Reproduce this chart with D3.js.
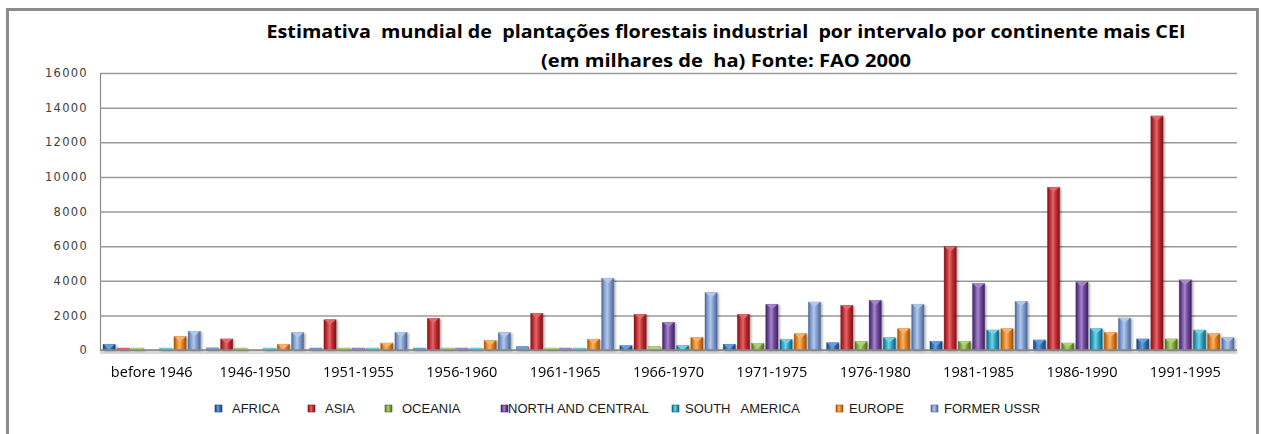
<!DOCTYPE html>
<html>
<head>
<meta charset="utf-8">
<script src="https://cdn.jsdelivr.net/npm/d3@7"></script>
<style>
  body { margin: 0; background: #fff; }
  svg text { white-space: pre; }
</style>
</head>
<body>
<script>
// Intervals (x axis)
const intervals = ['before 1946', '1946-1950', '1951-1955', '1956-1960', '1961-1965',
  '1966-1970', '1971-1975', '1976-1980', '1981-1985', '1986-1990', '1991-1995'];

// Series (continents)
const continents = ['AFRICA', 'ASIA', 'OCEANIA', 'NORTH AND CENTRAL', 'SOUTH   AMERICA', 'EUROPE', 'FORMER USSR'];

// values in thousands of ha, one per interval
const africa   = [330, 120, 110, 110, 190, 250, 330, 420, 500, 580, 640];
const asia     = [110, 640, 1750, 1830, 2120, 2060, 2060, 2580, 5970, 9400, 13520];
const oceania  = [110, 110, 110, 110, 110, 190, 385, 480, 500, 400, 640];
const northC   = [0, 0, 110, 110, 110, 1600, 2640, 2870, 3830, 3930, 4050];
const southAm  = [110, 110, 110, 110, 110, 250, 615, 710, 1155, 1230, 1155];
const europe   = [770, 330, 400, 540, 620, 730, 940, 1230, 1230, 1020, 940];
const formerSU = [1080, 1000, 1020, 1000, 4140, 3310, 2770, 2640, 2810, 1850, 710];

const yTicks = [0, 2000, 4000, 6000, 8000, 10000, 12000, 14000, 16000];

const seriesValues = [africa, asia, oceania, northC, southAm, europe, formerSU];

// colours: [dark, base, light]
const colors = [
  ['#1c3f72', '#2f6cb3', '#6a9ed9'],
  ['#7a1619', '#bd2a2e', '#e0686b'],
  ['#4a6a1e', '#7ca53b', '#b2d076'],
  ['#3f2360', '#6d4698', '#a587c8'],
  ['#146079', '#2aa0be', '#74d0e6'],
  ['#9a4f08', '#e07f1d', '#f7b36c'],
  ['#4b6595', '#7e9bcb', '#b3c8ea']
];

const W = 1261, H = 434;
const margin = { left: 100, right: 24, top: 73, bottom: 84 };

const svg = d3.select('body').append('svg')
  .attr('width', W)
  .attr('height', H)
  .style('font-family', '"Liberation Sans", Arial, sans-serif');

const defs = svg.append('defs');
colors.forEach((c, i) => {
  const g = defs.append('linearGradient').attr('id', 'grad' + i)
    .attr('x1', 0).attr('x2', 1).attr('y1', 0).attr('y2', 0);
  g.append('stop').attr('offset', '0%').attr('stop-color', c[0]);
  g.append('stop').attr('offset', '20%').attr('stop-color', c[1]);
  g.append('stop').attr('offset', '45%').attr('stop-color', c[2]).attr('stop-opacity', 1);
  g.append('stop').attr('offset', '70%').attr('stop-color', c[1]);
  g.append('stop').attr('offset', '100%').attr('stop-color', c[0]);
});
defs.append('filter').attr('id', 'shadow')
  .attr('x', '-30%').attr('y', '-10%').attr('width', '160%').attr('height', '130%')
  .append('feDropShadow')
  .attr('dx', 1.5).attr('dy', 1).attr('stdDeviation', 1)
  .attr('flood-color', '#000').attr('flood-opacity', 0.35);

// outer frame
svg.append('rect')
  .attr('x', 7.5).attr('y', 9.5)
  .attr('width', 1250).attr('height', 500)
  .attr('fill', 'none')
  .attr('stroke', '#8c8c8c')
  .attr('stroke-width', 3);

// title
const title = svg.append('text')
  .attr('text-anchor', 'middle')
  .attr('font-family', '"Liberation Sans Narrow", "Open Sans", sans-serif')
  .attr('font-weight', 'bold')
  .attr('font-size', 18)
  .attr('fill', '#000');
title.append('tspan').attr('x', 726).attr('y', 38)
  .attr('textLength', 919).attr('lengthAdjust', 'spacingAndGlyphs')
  .text('Estimativa  mundial de  plantações florestais industrial  por intervalo por continente mais CEI');
title.append('tspan').attr('x', 726).attr('y', 67)
  .attr('textLength', 370).attr('lengthAdjust', 'spacingAndGlyphs')
  .text('(em milhares de  ha) Fonte: FAO 2000');

const x0 = d3.scaleBand()
  .domain(intervals)
  .range([margin.left, W - margin.right])
  .padding(0);

const x1 = d3.scaleBand()
  .domain(d3.range(continents.length))
  .range([3, x0.bandwidth() - 3])
  .paddingInner(0.14)
  .paddingOuter(0);

const y = d3.scaleLinear()
  .domain([0, 16000])
  .range([H - margin.bottom, margin.top]);

// gridlines + y labels
const yAxis = svg.append('g')
  .attr('transform', `translate(${margin.left},0)`)
  .call(d3.axisLeft(y)
    .tickValues(yTicks)
    .tickSize(-(W - margin.left - margin.right))
    .tickPadding(12)
    .tickFormat(d3.format('d')));
yAxis.select('.domain').attr('stroke', '#8a8a8a').attr('stroke-width', 1.2);
yAxis.selectAll('.tick line').attr('stroke', '#9a9a9a').attr('stroke-width', 1.5);
yAxis.selectAll('.tick text')
  .attr('font-family', '"DejaVu Sans", Verdana, sans-serif')
  .attr('font-size', 11.5)
  .attr('letter-spacing', 1.3)
  .attr('fill', '#404040');

// floor shadow under baseline
svg.append('rect')
  .attr('x', margin.left).attr('y', y(0) + 1)
  .attr('width', W - margin.left - margin.right).attr('height', 3)
  .attr('fill', '#d8d8d8');

// bars
const groups = svg.append('g').attr('filter', 'url(#shadow)')
  .selectAll('g')
  .data(intervals)
  .join('g')
  .attr('transform', d => `translate(${x0(d)},0)`);

groups.each(function (interval, gi) {
  const g = d3.select(this);
  const vals = seriesValues.map((s, si) => ({ si, v: s[gi] })).filter(d => d.v > 0);

  g.selectAll('rect.bar')
    .data(vals)
    .join('rect')
    .attr('class', 'bar')
    .attr('x', d => x1(d.si))
    .attr('y', d => y(d.v))
    .attr('width', x1.bandwidth())
    .attr('height', d => y(0) - y(d.v))
    .attr('fill', d => `url(#grad${d.si})`)
    .attr('stroke', d => colors[d.si][0])
    .attr('stroke-opacity', 0.5)
    .attr('stroke-width', 0.6);

  // bevel cap at top of each bar
  g.selectAll('path.cap')
    .data(vals)
    .join('path')
    .attr('class', 'cap')
    .attr('fill', d => colors[d.si][2])
    .attr('d', d => {
      const bx = x1(d.si), bw = x1.bandwidth(), top = y(d.v);
      const h = Math.min(5, y(0) - top);
      if (h < 4) return `M${bx},${top}h${bw}v${h}h${-bw}Z`;
      return `M${bx + 0.5},${top}h${bw - 1}l${-bw / 2 + 0.5},${h}Z`;
    });
});

// baseline
svg.append('line')
  .attr('x1', margin.left).attr('x2', W - margin.right)
  .attr('y1', y(0)).attr('y2', y(0))
  .attr('stroke', '#8a8a8a').attr('stroke-width', 1.5);

// x labels
const xAxis = svg.append('g')
  .attr('transform', `translate(0,${y(0)})`)
  .call(d3.axisBottom(x0).tickSize(0).tickPadding(17));
xAxis.select('.domain').remove();
xAxis.selectAll('.tick text')
  .attr('font-family', '"Open Sans", "DejaVu Sans", sans-serif')
  .attr('font-size', 14.5)
  .attr('fill', '#000');

// legend
const legendX = [215, 308, 385, 501, 672, 836, 931];
const legendTextX = [232, 325, 402, 508, 685, 849, 944];
const legend = svg.append('g').attr('id', 'legend');
continents.forEach((name, i) => {
  legend.append('rect')
    .attr('x', legendX[i]).attr('y', 405)
    .attr('width', 7).attr('height', 7)
    .attr('fill', `url(#grad${i})`)
    .attr('stroke', colors[i][0]).attr('stroke-width', 0.6);
  legend.append('text')
    .attr('x', legendTextX[i]).attr('y', 413)
    .attr('font-size', 13)
    .attr('fill', '#1a1a1a')
    .text(name);
});
</script>
</body>
</html>
